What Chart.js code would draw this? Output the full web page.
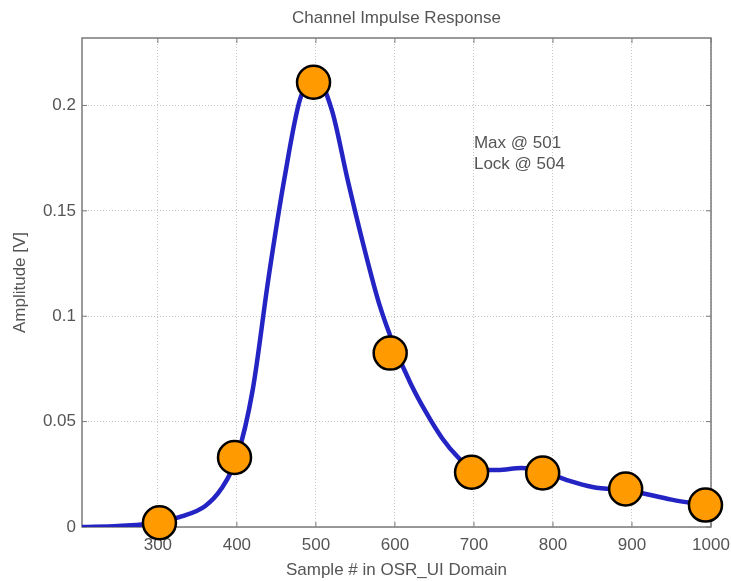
<!DOCTYPE html>
<html>
<head>
<meta charset="utf-8">
<title>Channel Impulse Response</title>
<script src="https://cdn.jsdelivr.net/npm/chart.js@4.4.0/dist/chart.umd.min.js"></script>
<style>
  html, body { margin: 0; padding: 0; background: #fff; }
</style>
</head>
<body>
<canvas id="cir" width="731" height="581"></canvas>
<script>
// impulse response trace (sample index, volts)
const sampleX = [204, 250, 300, 330, 360, 380, 400, 420, 440, 460, 480, 500, 520, 540, 560, 580,
  600, 620, 640, 660, 680, 700, 730, 760, 790, 820, 850, 900, 950, 1000];
const amplitude = [0, 0.0005, 0.002, 0.005, 0.010, 0.018, 0.033, 0.065, 0.118, 0.165, 0.203, 0.213,
  0.198, 0.165, 0.134, 0.106, 0.085, 0.068, 0.054, 0.042, 0.033, 0.027, 0.027, 0.028, 0.026, 0.022,
  0.019, 0.017, 0.013, 0.010];

// highlighted samples
const markerX = [302, 397, 497, 594, 697, 787, 892, 993];
const markerY = [0.002, 0.033, 0.211, 0.0825, 0.026, 0.0256, 0.018, 0.0104];

const xTicks = [300, 400, 500, 600, 700, 800, 900, 1000];
const yTicks = [0, 0.05, 0.1, 0.15, 0.2];
const notes = ['Max @ 501', 'Lock @ 504'];

const FONT = '"Liberation Sans", Arial, sans-serif';
const TEXT = '#555';

const toPoints = (xs, ys) => xs.map((x, i) => ({ x: x, y: ys[i] }));

// box, inward ticks, title and the max/lock note
const framePlugin = {
  id: 'frame',
  beforeDatasetsDraw(chart) {
    const { ctx, chartArea: a, scales } = chart;
    ctx.save();
    ctx.strokeStyle = '#7a7a7a';
    ctx.lineWidth = 1.5;
    ctx.strokeRect(a.left, a.top, a.right - a.left, a.bottom - a.top);

    ctx.lineWidth = 1;
    xTicks.forEach(v => {
      const px = scales.x.getPixelForValue(v);
      ctx.beginPath();
      ctx.moveTo(px, a.bottom); ctx.lineTo(px, a.bottom - 5);
      ctx.moveTo(px, a.top); ctx.lineTo(px, a.top + 5);
      ctx.stroke();
    });
    yTicks.forEach(v => {
      const py = scales.y.getPixelForValue(v);
      ctx.beginPath();
      ctx.moveTo(a.left, py); ctx.lineTo(a.left + 5, py);
      ctx.moveTo(a.right, py); ctx.lineTo(a.right - 5, py);
      ctx.stroke();
    });

    ctx.fillStyle = TEXT;
    ctx.font = '17px ' + FONT;
    ctx.textAlign = 'center';
    ctx.textBaseline = 'middle';
    ctx.fillText('Channel Impulse Response', (a.left + a.right) / 2, 18);

    ctx.textAlign = 'left';
    const nx = scales.x.getPixelForValue(700);
    const ny = scales.y.getPixelForValue(0.182);
    notes.forEach((t, i) => ctx.fillText(t, nx, ny + i * 21));
    ctx.restore();
  }
};

new Chart(document.getElementById('cir'), {
  type: 'scatter',
  data: {
    datasets: [
      {
        label: 'samples',
        data: toPoints(markerX, markerY),
        order: 0,
        pointRadius: 16.5,
        pointHoverRadius: 16.5,
        backgroundColor: '#ff9a00',
        borderColor: '#000',
        borderWidth: 2.5,
        clip: false
      },
      {
        label: 'response',
        data: toPoints(sampleX, amplitude),
        order: 1,
        showLine: true,
        cubicInterpolationMode: 'monotone',
        borderColor: '#2424c4',
        borderWidth: 4.5,
        pointRadius: 0,
        fill: false
      }
    ]
  },
  options: {
    responsive: false,
    animation: false,
    layout: { padding: { top: 38, right: 20, left: 0, bottom: 0 } },
    plugins: {
      legend: { display: false },
      tooltip: { enabled: false }
    },
    scales: {
      x: {
        type: 'linear',
        min: 204,
        max: 1000,
        afterBuildTicks: s => { s.ticks = xTicks.map(v => ({ value: v })); },
        // fixed height; the 1000 label may run into the right margin
        afterFit: s => { s.height = 54; s.paddingRight = 0; s.paddingLeft = 0; },
        grid: { color: '#c4c4c4', drawTicks: false },
        border: { display: false, dash: [1, 2] },
        ticks: {
          color: TEXT, font: { family: FONT, size: 17 }, padding: 8, maxRotation: 0,
          callback: v => String(v)
        },
        title: {
          display: true,
          text: 'Sample # in OSR_UI Domain',
          color: TEXT,
          font: { family: FONT, size: 17 },
          padding: { top: 0, bottom: 0 }
        }
      },
      y: {
        min: 0,
        max: 0.232,
        afterBuildTicks: s => { s.ticks = yTicks.map(v => ({ value: v })); },
        afterFit: s => { s.width = 82; },
        grid: { color: '#c4c4c4', drawTicks: false },
        border: { display: false, dash: [1, 2] },
        ticks: { color: TEXT, font: { family: FONT, size: 17 }, padding: 6, callback: v => String(v) },
        title: {
          display: true,
          text: 'Amplitude [V]',
          color: TEXT,
          font: { family: FONT, size: 17 },
          padding: { top: 10, bottom: 0 }
        }
      }
    }
  },
  plugins: [framePlugin]
});
</script>
</body>
</html>
